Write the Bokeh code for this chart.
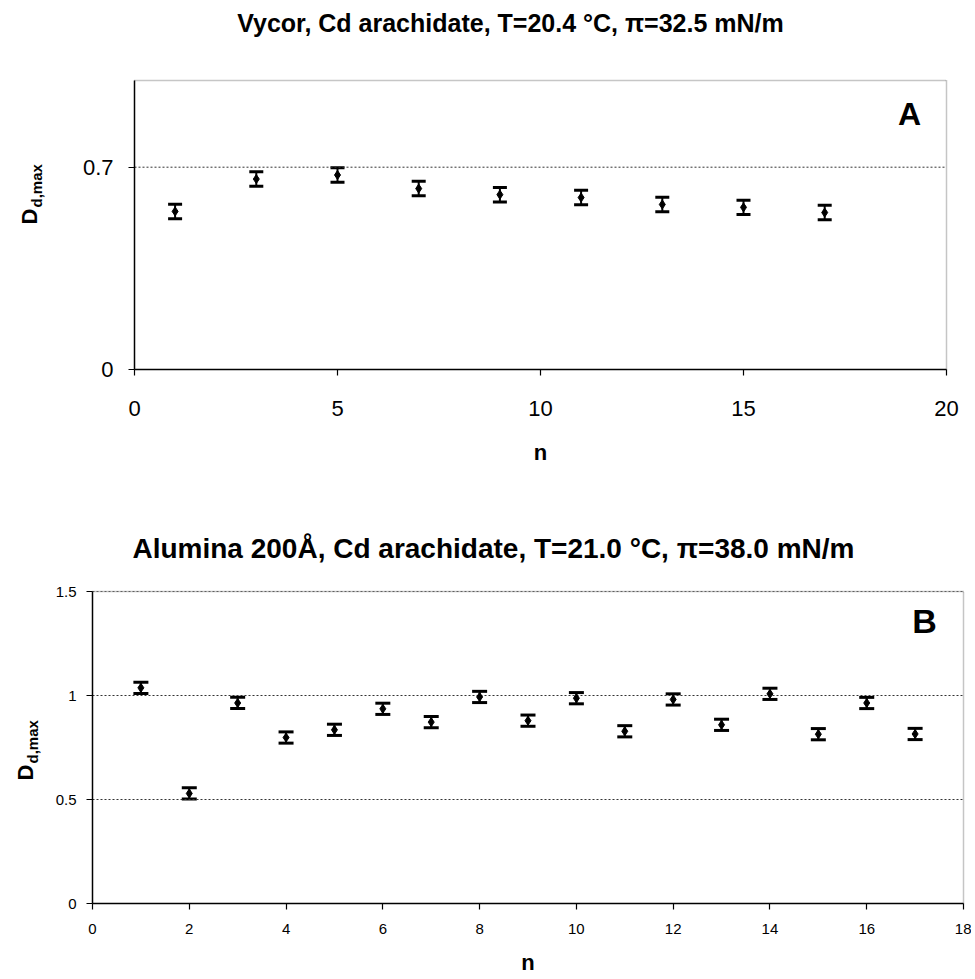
import math
from bokeh.plotting import figure
from bokeh.layouts import column
from bokeh.models import ColumnDataSource, Whisker, TeeHead, Label, FixedTicker, Range1d
from bokeh.embed import file_html
from bokeh.resources import INLINE

# ---------------- Panel A: Vycor ----------------
title_a = "Vycor, Cd arachidate, T=20.4 \u00b0C, \u03c0=32.5 mN/m"
n_a = [1, 3, 5, 7, 9, 11, 13, 15, 17]
d_a = [0.547, 0.659, 0.673, 0.626, 0.605, 0.595, 0.571, 0.561, 0.543]
err_a = [0.025, 0.025, 0.025, 0.025, 0.025, 0.025, 0.025, 0.025, 0.025]
xlim_a = (0, 20)
ylim_a = (0, 1.0)
xticks_a = [0, 5, 10, 15, 20]
yticks_a = [0, 0.7]
ylabels_a = {0: "0", 0.7: "0.7"}

# ---------------- Panel B: Alumina ----------------
title_b = "Alumina 200\u00c5, Cd arachidate, T=21.0 \u00b0C, \u03c0=38.0 mN/m"
n_b = [1, 2, 3, 4, 5, 6, 7, 8, 9, 10, 11, 12, 13, 14, 15, 16, 17]
d_b = [1.037, 0.529, 0.964, 0.798, 0.835, 0.936, 0.872, 0.993, 0.879,
       0.987, 0.828, 0.981, 0.859, 1.008, 0.814, 0.964, 0.815]
err_b = [0.027, 0.027, 0.027, 0.027, 0.027, 0.027, 0.027, 0.027, 0.027,
         0.027, 0.027, 0.027, 0.027, 0.027, 0.027, 0.027, 0.027]
xlim_b = (0, 18)
ylim_b = (0, 1.5)
xticks_b = [0, 2, 4, 6, 8, 10, 12, 14, 16, 18]
yticks_b = [0, 0.5, 1, 1.5]
ylabels_b = {0: "0", 0.5: "0.5", 1: "1", 1.5: "1.5"}

FONT = "Liberation Sans"
W = 971


def make_panel(n, d, err, xlim, ylim, xticks, yticks, ylabels, H, page_top, frame_px,
               tick_fs, label_standoff, axis_label_standoff, ylab_standoff, cap,
               title, title_pos, title_fs, d_pos, letter, letter_pos, letter_fs):
    fl, fr, ft, fb = frame_px            # plot-area edges in page pixels
    L, R = fl, fr
    T, B = ft - page_top, fb - page_top
    xs = (xlim[1] - xlim[0]) / (R - L)
    ys = (ylim[1] - ylim[0]) / (B - T)
    x_range = Range1d(xlim[0] - L * xs, xlim[1] + (W - R) * xs)
    y_range = Range1d(ylim[0] - (H - B) * ys, ylim[1] + T * ys)

    def scr(px, py):
        return px, H - (py - page_top)

    p = figure(width=W, height=H, x_range=x_range, y_range=y_range,
               output_backend="svg", toolbar_location=None,
               min_border_left=0, min_border_right=0, min_border_top=0, min_border_bottom=0)
    p.background_fill_color = "white"
    p.border_fill_color = "white"
    p.outline_line_color = None
    p.xgrid.visible = False
    p.ygrid.visible = False

    p.xaxis.fixed_location = ylim[0]
    p.xaxis.bounds = xlim
    p.yaxis.fixed_location = xlim[0]
    p.yaxis.bounds = ylim
    p.xaxis.ticker = FixedTicker(ticks=xticks)
    p.yaxis.ticker = FixedTicker(ticks=yticks)
    p.yaxis.major_label_overrides = ylabels
    for ax in (p.xaxis[0], p.yaxis[0]):
        ax.axis_line_color = "black"
        ax.axis_line_width = 1.5
        ax.major_tick_line_color = "black"
        ax.major_tick_line_width = 1.2
        ax.major_tick_in = 0
        ax.major_tick_out = 6
        ax.minor_tick_line_color = None
        ax.major_label_text_font = FONT
        ax.major_label_text_font_size = f"{tick_fs}px"
        ax.major_label_text_color = "black"
    p.yaxis.major_label_standoff = ylab_standoff
    p.xaxis.major_label_standoff = label_standoff
    p.xaxis.axis_label = "n"
    p.xaxis.axis_label_standoff = axis_label_standoff
    p.xaxis.axis_label_text_font = FONT
    p.xaxis.axis_label_text_font_style = "bold"
    p.xaxis.axis_label_text_font_size = "22px"
    p.xaxis.axis_label_text_color = "black"

    # dotted horizontal gridlines and plot-area border (top / right)
    gy = [t for t in yticks if t != ylim[0]]
    p.segment(x0=[xlim[0]] * len(gy), x1=[xlim[1]] * len(gy), y0=gy, y1=gy,
              line_color="#333333", line_dash="2 2", line_width=1)
    p.line(x=[xlim[0], xlim[1], xlim[1]], y=[ylim[1], ylim[1], ylim[0]],
           line_color="#8c8c8c", line_dash="1 1", line_width=1.5)

    upper = [v + e for v, e in zip(d, err)]
    lower = [v - e for v, e in zip(d, err)]
    src = ColumnDataSource(dict(n=n, d=d, upper=upper, lower=lower))
    p.add_layout(Whisker(source=src, base="n", upper="upper", lower="lower",
                         line_color="black", line_width=2,
                         upper_head=TeeHead(size=cap, line_width=3, line_color="black"),
                         lower_head=TeeHead(size=cap, line_width=3, line_color="black")))
    p.scatter("n", "d", source=src, marker="diamond", size=9, color="black")

    tx, ty = scr(*title_pos)
    p.add_layout(Label(x=tx, y=ty, x_units="screen", y_units="screen", text=title,
                       text_align="center", text_baseline="middle",
                       text_font=FONT, text_font_style="bold",
                       text_font_size=f"{title_fs}px", text_color="black"))
    # y-axis label: "D" with subscript "d,max", rotated
    dx, dy = scr(*d_pos)
    p.add_layout(Label(x=dx, y=dy, x_units="screen", y_units="screen", text="D",
                       angle=math.pi / 2, text_align="left", text_baseline="middle",
                       text_font=FONT, text_font_style="bold",
                       text_font_size="22px", text_color="black"))
    p.add_layout(Label(x=dx + 7, y=dy + 17, x_units="screen", y_units="screen", text="d,max",
                       angle=math.pi / 2, text_align="left", text_baseline="middle",
                       text_font=FONT, text_font_style="bold",
                       text_font_size="15px", text_color="black"))
    lx, ly = scr(*letter_pos)
    p.add_layout(Label(x=lx, y=ly, x_units="screen", y_units="screen", text=letter,
                       text_align="center", text_baseline="middle",
                       text_font=FONT, text_font_style="bold",
                       text_font_size=f"{letter_fs}px", text_color="black"))
    return p


H_A = 490
H_B = 485
pa = make_panel(n_a, d_a, err_a, xlim_a, ylim_a, xticks_a, yticks_a, ylabels_a,
                H_A, 0, (134, 946, 80, 369),
                22, 25, 21, 15, 14,
                title_a, (510, 22), 25, (29, 224),
                "A", (909, 113), 32)

pb = make_panel(n_b, d_b, err_b, xlim_b, ylim_b, xticks_b, yticks_b, ylabels_b,
                H_B, H_A, (92, 963, 591, 903),
                15, 14, 13, 10, 15,
                title_b, (493, 548), 28, (25, 780),
                "B", (924, 620), 34)

layout = column(pa, pb, spacing=0)
open("out.html", "w").write(file_html(layout, INLINE))
